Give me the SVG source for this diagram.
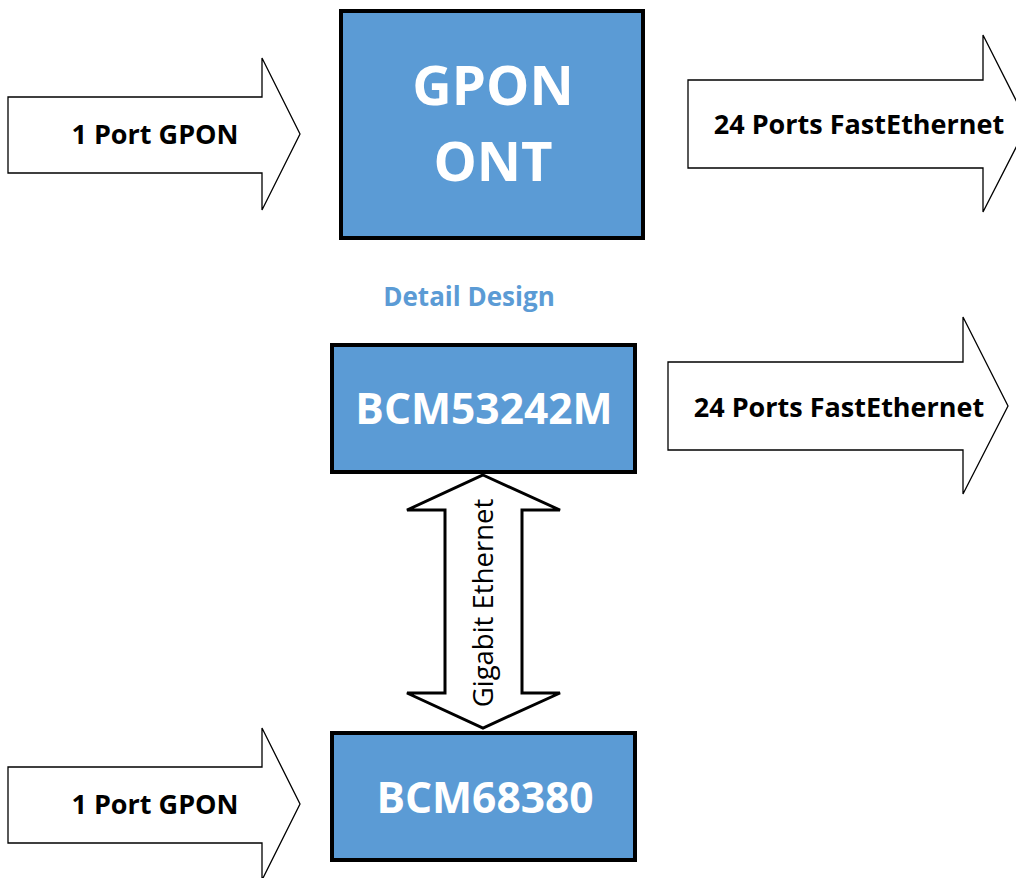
<svg xmlns="http://www.w3.org/2000/svg" width="1016" height="878" viewBox="0 0 1016 878">
<style>
.arrow{fill:#ffffff;stroke:#000000;stroke-width:1.3;stroke-linejoin:miter}
.box{fill:#5b9bd5;stroke:#000000;stroke-width:4}
.lbl{font-family:"Open Sans","Noto Sans",sans-serif;font-weight:bold;fill:#000000;text-anchor:middle}
.wt{font-family:"Open Sans","Noto Sans",sans-serif;font-weight:bold;fill:#ffffff;text-anchor:middle}
</style>
<rect width="1016" height="878" fill="#ffffff"/>
<g id="connectors">
<g id="in-gpon-top">
<polygon class="arrow" points="8,97 262,97 262,58 300,134 262,210 262,173 8,173"/>
<text class="lbl" x="155" y="144" font-size="27">1 Port GPON</text>
</g>
<g id="out-fe-top">
<polygon class="arrow" points="688,80 983,80 983,35 1028,124 983,212 983,168 688,168"/>
<text class="lbl" x="859" y="134" font-size="27">24 Ports FastEthernet</text>
</g>
<g id="out-fe-bottom">
<polygon class="arrow" points="668,362 963,362 963,317 1008,406 963,494 963,450 668,450"/>
<text class="lbl" x="839" y="417" font-size="27">24 Ports FastEthernet</text>
</g>
<g id="in-gpon-bottom">
<polygon class="arrow" points="8,767 262,767 262,728 300,804 262,880 262,843 8,843"/>
<text class="lbl" x="155" y="814" font-size="27">1 Port GPON</text>
</g>
<g id="gige">
<polygon points="483,475 560,510 522,510 522,693 560,693 483,728 407,693 445,693 445,510 407,510" fill="#ffffff" stroke="#000000" stroke-width="3" stroke-linejoin="miter"/>
<text x="0" y="0" transform="translate(493,603) rotate(-90)" font-family="'Open Sans','Noto Sans',sans-serif" font-size="27.5" text-anchor="middle" fill="#000000">Gigabit Ethernet</text>
</g>
</g>
<g id="gpon-ont">
<rect class="box" x="341" y="11" width="302" height="227"/>
<text class="wt" x="493" y="105" font-size="54.5">GPON</text>
<text class="wt" x="493" y="181" font-size="54.5">ONT</text>
</g>
<g id="detail-design">
<text x="469" y="306" font-family="'Open Sans','Noto Sans',sans-serif" font-weight="bold" font-size="26" fill="#5b9bd5" text-anchor="middle">Detail Design</text>
</g>
<g id="bcm53242m">
<rect class="box" x="332" y="345" width="303" height="127"/>
<text class="wt" x="484" y="424" font-size="42.5">BCM53242M</text>
</g>
<g id="bcm68380">
<rect class="box" x="332" y="733" width="303" height="127"/>
<text class="wt" x="485" y="813" font-size="42.5">BCM68380</text>
</g>
</svg>
